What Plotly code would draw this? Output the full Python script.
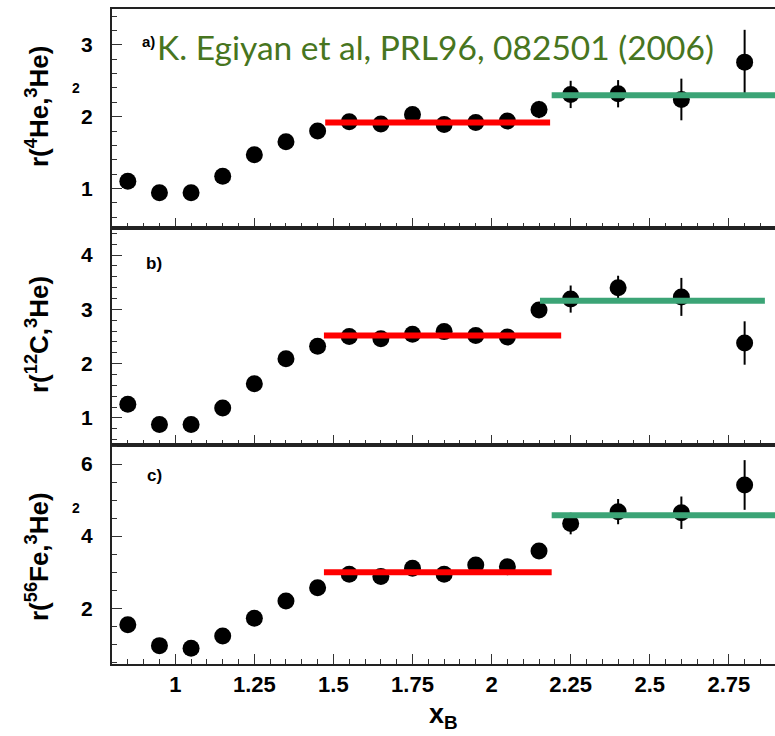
import plotly.graph_objects as go

# ---------------- data ----------------
x_vals = [0.85, 0.95, 1.05, 1.15, 1.25, 1.35, 1.45, 1.55, 1.65, 1.75, 1.85,
          1.95, 2.05, 2.15, 2.25, 2.40, 2.60, 2.80]

r_he4 = [1.10, 0.94, 0.94, 1.17, 1.47, 1.65, 1.80, 1.93, 1.90, 2.03, 1.89,
         1.92, 1.94, 2.10, 2.31, 2.32, 2.24, 2.76]
e_he4 = [0.02, 0.02, 0.02, 0.02, 0.02, 0.02, 0.03, 0.03, 0.03, 0.04, 0.04,
         0.05, 0.06, 0.12, 0.19, 0.19, 0.29, 0.45]

r_c12 = [1.25, 0.88, 0.88, 1.18, 1.63, 2.09, 2.32, 2.50, 2.46, 2.54, 2.59,
         2.52, 2.49, 2.99, 3.19, 3.40, 3.23, 2.38]
e_c12 = [0.03, 0.03, 0.03, 0.03, 0.03, 0.04, 0.04, 0.05, 0.05, 0.05, 0.06,
         0.07, 0.08, 0.14, 0.25, 0.22, 0.35, 0.40]

r_fe56 = [1.54, 0.96, 0.89, 1.23, 1.72, 2.20, 2.57, 2.94, 2.88, 3.11, 2.94,
          3.20, 3.15, 3.59, 4.35, 4.68, 4.65, 5.42]
e_fe56 = [0.04, 0.04, 0.04, 0.04, 0.05, 0.06, 0.06, 0.07, 0.07, 0.08, 0.09,
          0.10, 0.12, 0.18, 0.30, 0.35, 0.45, 0.69]

# plateau fit levels (red: 1.5<x<2, green: x>2.25)
red_x = [[1.474, 2.185], [1.47, 2.22], [1.47, 2.19]]
red_y = [1.92, 2.52, 3.00]
green_x = [[2.19, 2.92], [2.153, 2.864], [2.19, 2.92]]
green_y = [2.30, 3.16, 4.58]

y_titles = ["r(<sup>4</sup>He,<sup>3</sup>He)",
            "r(<sup>12</sup>C,<sup>3</sup>He)",
            "r(<sup>56</sup>Fe,<sup>3</sup>He)"]
panel_labels = ["a)", "b)", "c)"]
y_ranges = [[0.45, 3.5], [0.5, 4.5], [0.45, 6.53]]
y_dticks = [1, 1, 2]
y_minor = [0.2, 0.2, 0.5]
x_ticks = [1, 1.25, 1.5, 1.75, 2, 2.25, 2.5, 2.75]
x_ticklabels = ["1", "1.25", "1.5", "1.75", "2", "2.25", "2.5", "2.75"]
x_range = [0.8, 2.896]
citation = "K. Egiyan et al, PRL96, 082501 (2006)"

# ---------------- layout geometry ----------------
W, H = 775, 736
L, R, T, B = 112, 0, 9, 72
plot_h = H - T - B
# panel pixel boundaries (top, bottom)
panels_px = [(9, 228), (228, 445), (445, 664)]


def px_x(px):
    return (px - L) / (W - L - R)


def px_y(py):
    return (H - B - py) / plot_h


fig = go.Figure()
series = [(r_he4, e_he4), (r_c12, e_c12), (r_fe56, e_fe56)]

for i, (vals, errs) in enumerate(series):
    xa = "x" if i == 0 else f"x{i+1}"
    ya = "y" if i == 0 else f"y{i+1}"
    fig.add_trace(go.Scatter(
        x=x_vals, y=vals, mode="markers",
        marker=dict(color="black", size=17),
        error_y=dict(type="data", array=errs, color="black", thickness=2, width=0),
        xaxis=xa, yaxis=ya, showlegend=False, cliponaxis=False))
    fig.add_trace(go.Scatter(
        x=red_x[i], y=[red_y[i], red_y[i]], mode="lines",
        line=dict(color="#ff0000", width=6),
        xaxis=xa, yaxis=ya, showlegend=False))
    fig.add_trace(go.Scatter(
        x=green_x[i], y=[green_y[i], green_y[i]], mode="lines",
        line=dict(color="#3ba476", width=6),
        xaxis=xa, yaxis=ya, showlegend=False))

tickfont_x = dict(family="Liberation Sans", size=22, color="black", weight="bold")
tickfont_y = dict(family="Liberation Sans", size=21, color="black", weight="bold")

layout = dict(
    width=W, height=H,
    margin=dict(l=L, r=R, t=T, b=B),
    paper_bgcolor="white", plot_bgcolor="white",
    showlegend=False,
)

for i in range(3):
    top, bot = panels_px[i]
    xkey = "xaxis" if i == 0 else f"xaxis{i+1}"
    ykey = "yaxis" if i == 0 else f"yaxis{i+1}"
    ya = "y" if i == 0 else f"y{i+1}"
    xa = "x" if i == 0 else f"x{i+1}"
    layout[xkey] = dict(
        domain=[0, 1], anchor=ya, range=x_range,
        tickvals=x_ticks, ticktext=x_ticklabels,
        showticklabels=(i == 2), tickfont=tickfont_x,
        ticks="inside", ticklen=10, tickwidth=1, tickcolor="#333",
        minor=dict(dtick=0.05, tick0=0.8, ticks="inside", ticklen=5,
                   tickwidth=1, tickcolor="#333", showgrid=False),
        showline=True, linecolor="#222", linewidth=2, mirror=True,
        showgrid=False, zeroline=False, fixedrange=True,
    )
    layout[ykey] = dict(
        domain=[px_y(bot), px_y(top)], anchor=xa, range=y_ranges[i],
        dtick=y_dticks[i], tick0=0, tickfont=tickfont_y,
        ticks="inside", ticklen=10, tickwidth=1, tickcolor="#333",
        minor=dict(dtick=y_minor[i], tick0=0, ticks="inside", ticklen=5,
                   tickwidth=1, tickcolor="#333", showgrid=False),
        showline=True, linecolor="#222", linewidth=2, mirror=False,
        showgrid=False, zeroline=False, fixedrange=True,
        ticklabelstandoff=13,
    )

fig.update_layout(**layout)

annotations = []
# y-axis titles
title_centers = [107, 335, 557]
for i in range(3):
    annotations.append(dict(
        xref="paper", yref="paper", x=px_x(37), y=px_y(title_centers[i]),
        text=y_titles[i], textangle=-90, showarrow=False,
        xanchor="center", yanchor="middle",
        font=dict(family="Liberation Sans", size=26, color="black", weight="bold")))
# panel labels
label_pos = [(148, 41), (154, 263), (154, 475)]
for i in range(3):
    annotations.append(dict(
        xref="paper", yref="paper", x=px_x(label_pos[i][0]), y=px_y(label_pos[i][1]),
        text=panel_labels[i], showarrow=False, xanchor="center", yanchor="middle",
        font=dict(family="Liberation Sans", size=15 if i == 0 else 17,
                  color="black", weight="bold")))
# stray "2" marks in the figure
for (px, py) in [(76, 88), (76, 508)]:
    annotations.append(dict(
        xref="paper", yref="paper", x=px_x(px), y=px_y(py),
        text="2", showarrow=False, xanchor="center", yanchor="middle",
        font=dict(family="Liberation Sans", size=14, color="black", weight="bold")))
# x-axis title
annotations.append(dict(
    xref="paper", yref="paper", x=px_x(443), y=px_y(716),
    text="x<sub>B</sub>", showarrow=False, xanchor="center", yanchor="middle",
    font=dict(family="Liberation Sans", size=27, color="black", weight="bold")))
# citation
annotations.append(dict(
    xref="paper", yref="paper", x=px_x(155), y=px_y(47),
    text=citation, showarrow=False, xanchor="left", yanchor="middle",
    font=dict(family="Lato", size=33.5, color="#477520")))

fig.update_layout(annotations=annotations)

fig.write_html("out.html",
               config={"displayModeBar": False},
               post_script="document.body.style.margin='0px';"
                           "document.body.style.overflow='hidden';")
